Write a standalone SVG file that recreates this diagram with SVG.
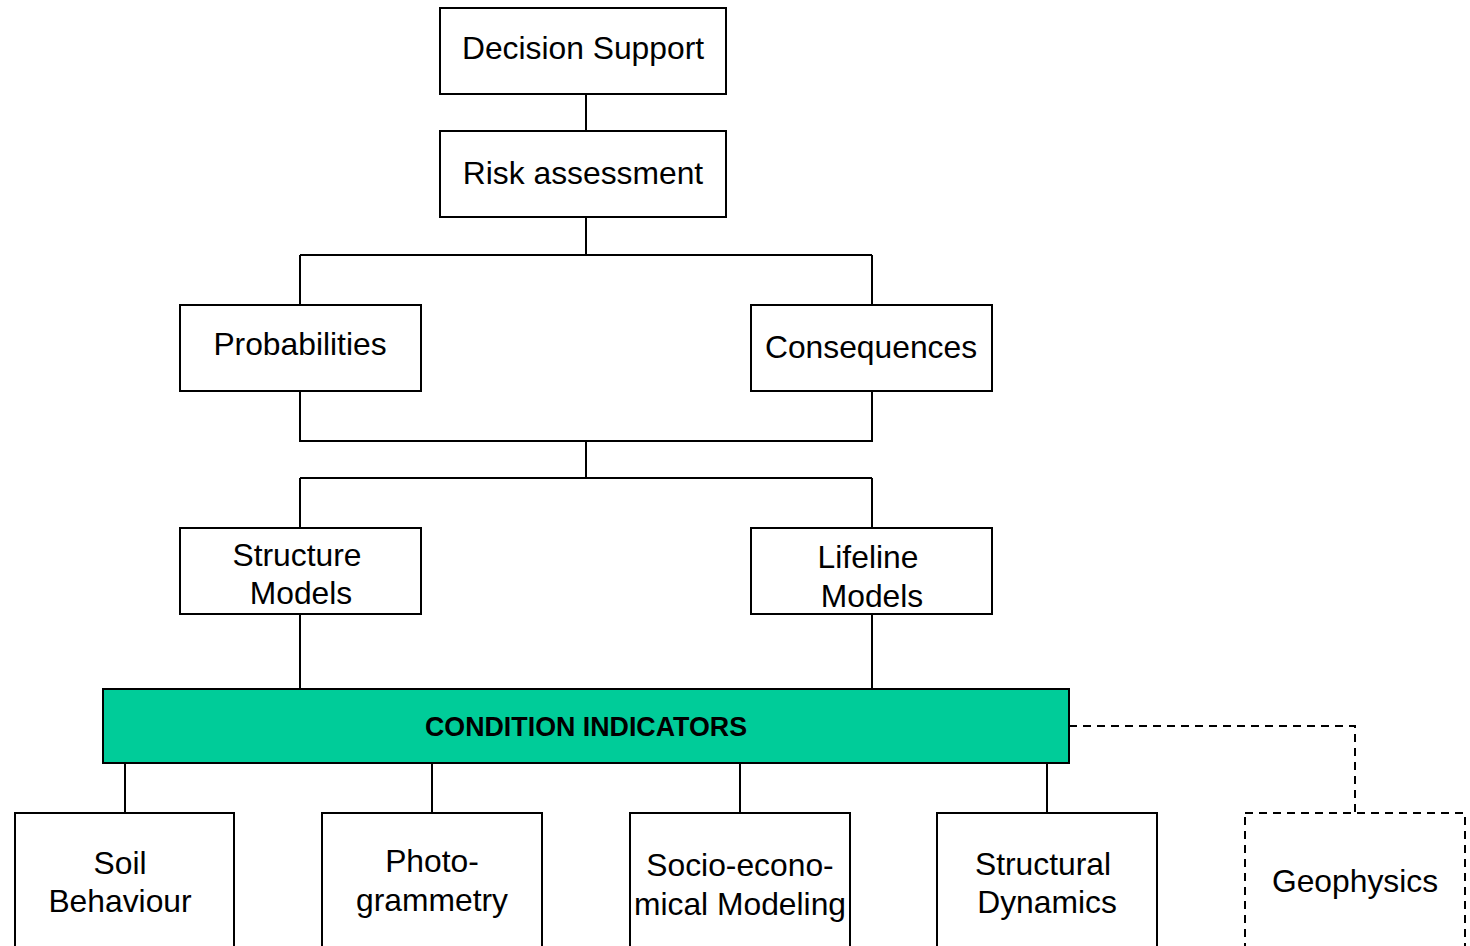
<svg xmlns="http://www.w3.org/2000/svg" width="1470" height="946" viewBox="0 0 1470 946">
<style>
.box{fill:#fff;stroke:#000;stroke-width:2}
.dbox{fill:#fff;stroke:#000;stroke-width:2;stroke-dasharray:8 6}
.t{font-family:"Liberation Sans",Arial,sans-serif;font-size:31.8px;fill:#000;text-anchor:middle}
.b{font-family:"Liberation Sans",Arial,sans-serif;font-size:26.8px;font-weight:bold;fill:#000;text-anchor:middle}
.c{fill:none;stroke:#000;stroke-width:2}
.dc{fill:none;stroke:#000;stroke-width:2;stroke-dasharray:8 6}
</style>
<rect width="1470" height="946" fill="#fff"/>
<g id="connectors">
<path class="c" d="M586 94V131M586 217V255M300 255H872M300 255V305M872 255V305"/>
<path class="c" d="M300 391V441H872V391M586 441V478M300 478H872M300 478V528M872 478V528"/>
<path class="c" d="M300 614V689M872 614V689"/>
<path class="c" d="M125 763V813M432 763V813M740 763V813M1047 763V813"/>
<path class="dc" d="M1069 726H1355V813"/>
</g>
<g id="decision"><rect class="box" x="440" y="8" width="286" height="86"/><text class="t" x="583" y="59">Decision Support</text></g>
<g id="risk"><rect class="box" x="440" y="131" width="286" height="86"/><text class="t" x="583" y="184">Risk assessment</text></g>
<g id="prob"><rect class="box" x="180" y="305" width="241" height="86"/><text class="t" x="300" y="355">Probabilities</text></g>
<g id="cons"><rect class="box" x="751" y="305" width="241" height="86"/><text class="t" x="871" y="358">Consequences</text></g>
<g id="structure"><rect class="box" x="180" y="528" width="241" height="86"/><text class="t" x="297" y="566">Structure</text><text class="t" x="301" y="604">Models</text></g>
<g id="lifeline"><rect class="box" x="751" y="528" width="241" height="86"/><text class="t" x="868" y="568">Lifeline</text><text class="t" x="872" y="607">Models</text></g>
<g id="condition"><rect x="103" y="689" width="966" height="74" fill="#00CC99" stroke="#000" stroke-width="2"/><text class="b" x="586" y="736">CONDITION INDICATORS</text></g>
<g id="soil"><rect class="box" x="15" y="813" width="219" height="150"/><text class="t" x="120" y="874">Soil</text><text class="t" x="120" y="912">Behaviour</text></g>
<g id="photo"><rect class="box" x="322" y="813" width="220" height="150"/><text class="t" x="432" y="872">Photo-</text><text class="t" x="432" y="911">grammetry</text></g>
<g id="socio"><rect class="box" x="630" y="813" width="220" height="150"/><text class="t" x="740" y="876">Socio-econo-</text><text class="t" x="740" y="915">mical Modeling</text></g>
<g id="structural"><rect class="box" x="937" y="813" width="220" height="150"/><text class="t" x="1043" y="875">Structural</text><text class="t" x="1047" y="913">Dynamics</text></g>
<g id="geo"><rect class="dbox" x="1245" y="813" width="220" height="150"/><text class="t" x="1355" y="892">Geophysics</text></g>
</svg>
